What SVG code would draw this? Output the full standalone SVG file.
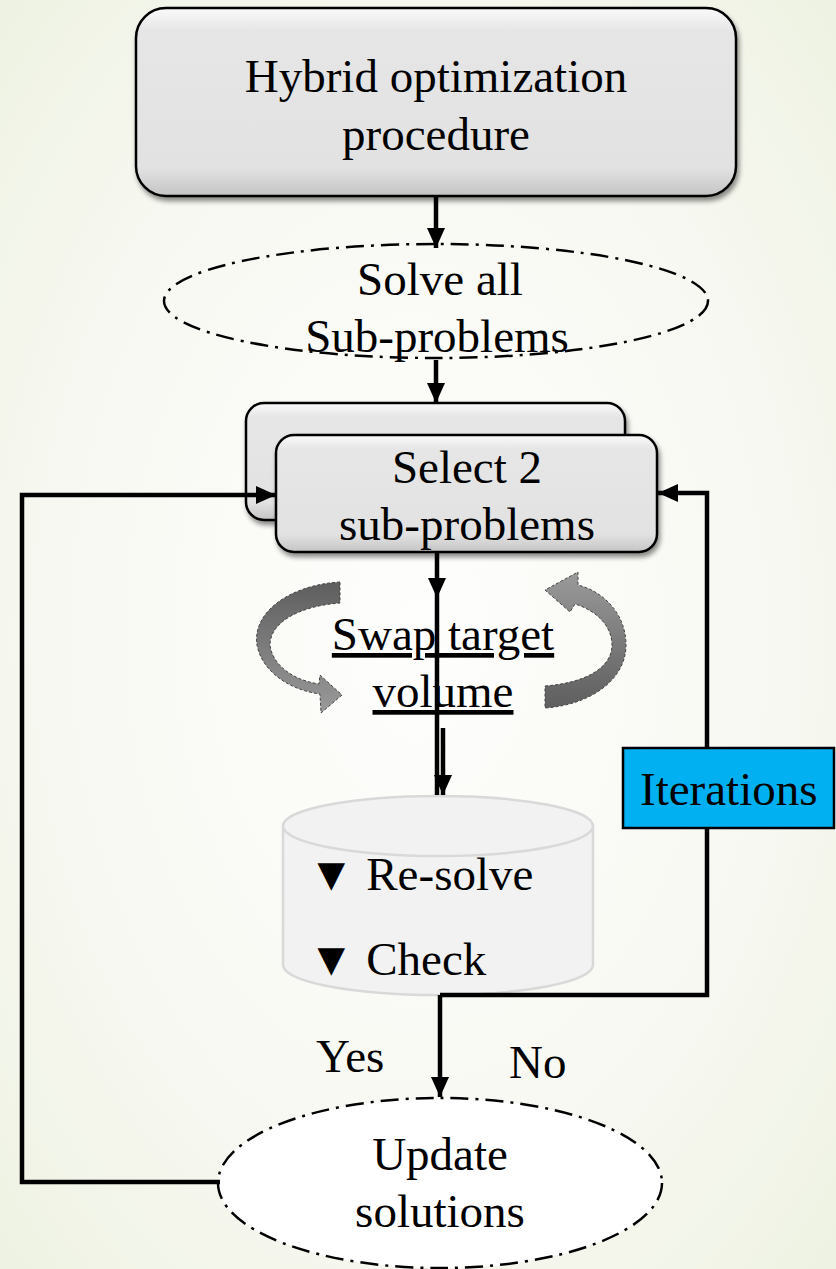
<svg xmlns="http://www.w3.org/2000/svg" width="836" height="1269" viewBox="0 0 836 1269">
<defs>
<radialGradient id="bg" cx="0.5" cy="0.5" r="0.75">
<stop offset="0" stop-color="#fefefd"/>
<stop offset="0.6" stop-color="#f7f8f1"/>
<stop offset="1" stop-color="#ecf1df"/>
</radialGradient>
<linearGradient id="boxg" x1="0" y1="0" x2="0" y2="1">
<stop offset="0" stop-color="#fafafa"/>
<stop offset="0.12" stop-color="#e6e6e6"/>
<stop offset="0.85" stop-color="#e2e2e2"/>
<stop offset="1" stop-color="#c4c4c4"/>
</linearGradient>
<linearGradient id="swapL" x1="0" y1="0" x2="0" y2="1">
<stop offset="0" stop-color="#5e5e5e"/>
<stop offset="1" stop-color="#9a9a9a"/>
</linearGradient>
<linearGradient id="swapR" x1="0" y1="1" x2="0" y2="0">
<stop offset="0" stop-color="#5e5e5e"/>
<stop offset="1" stop-color="#9a9a9a"/>
</linearGradient>
<filter id="sh" x="-10%" y="-10%" width="125%" height="130%">
<feDropShadow dx="2" dy="4" stdDeviation="2.5" flood-color="#000" flood-opacity="0.45"/>
</filter>
<marker id="ah" markerUnits="userSpaceOnUse" markerWidth="20" markerHeight="18" refX="20" refY="9" orient="auto">
<path d="M0,0 L20,9 L0,18 Z" fill="#000"/>
</marker>
<style>
text{font-family:"Liberation Serif","Times New Roman",serif;font-size:47px;fill:#000}
.c{text-anchor:middle}
.box{fill:url(#boxg);stroke:#000;stroke-width:2.5;filter:url(#sh)}
.dd{stroke:#000;stroke-width:2.5;stroke-dasharray:18 7 3 7}
.ln{fill:none;stroke:#000;stroke-width:4.5}
.swap{stroke:#444;stroke-width:1;stroke-dasharray:3 2}
</style>
</defs>
<rect width="836" height="1269" fill="url(#bg)"/>

<g id="node-hybrid">
<rect class="box" x="136" y="8" width="600" height="188" rx="30"/>
<text class="c" x="436" y="92">Hybrid optimization</text>
<text class="c" x="436" y="150">procedure</text>
</g>

<g id="node-solve">
<ellipse class="dd" cx="436" cy="301" rx="272" ry="57" fill="none"/>
<text class="c" x="440" y="295">Solve all</text>
<text class="c" x="437" y="352">Sub-problems</text>
</g>

<g id="node-select">
<rect class="box" x="246" y="403" width="379" height="117" rx="18"/>
<rect class="box" x="276" y="435" width="381" height="117" rx="18"/>
<text class="c" x="467" y="483">Select 2</text>
<text class="c" x="467" y="540">sub-problems</text>
</g>

<g id="node-swap">
<path class="swap" fill="url(#swapL)" d="M340,582 C290,585 252,612 257,645 C262,672 290,690 320,694 L321,713 L342,695 L320,675 L319,684 C292,680 272,664 270,645 C270,622 300,606 340,603 Z"/>
<path class="swap" fill="url(#swapR)" d="M545,686 C585,683 612,668 612,645 C612,625 595,610 575,604 L570,612 L545,590 L578,572 L578,585 C605,592 626,615 626,645 C626,680 590,705 545,708 Z"/>
<text class="c" x="443" y="650" text-decoration="underline">Swap target</text>
<text class="c" x="443" y="707" text-decoration="underline">volume</text>
</g>

<g id="node-check">
<path d="M283,826 V965 A155,30 0 0 0 593,965 V826" fill="#f2f2f2" stroke="#d9d9d9" stroke-width="2.5"/>
<ellipse cx="438" cy="826" rx="155" ry="30" fill="#f2f2f2" stroke="#d9d9d9" stroke-width="2.5"/>
<text x="308" y="890">▼ Re-solve</text>
<text x="308" y="975">▼ Check</text>
</g>

<g id="node-update">
<ellipse class="dd" cx="440" cy="1183" rx="222" ry="85" fill="#fff"/>
<text class="c" x="440" y="1170">Update</text>
<text class="c" x="440" y="1227">solutions</text>
</g>

<g id="connectors">
<path class="ln" d="M436,196 V248" marker-end="url(#ah)"/>
<path class="ln" d="M436,360 V403" marker-end="url(#ah)"/>
<path class="ln" d="M437,553 V598" marker-end="url(#ah)"/>
<path class="ln" d="M437,598 V795" stroke-width="3.5"/>
<path class="ln" d="M443,728 V795" marker-end="url(#ah)"/>
<path class="ln" d="M440,995 V1097" marker-end="url(#ah)"/>
<path class="ln" d="M220,1182 H22 V495 H276" marker-end="url(#ah)"/>
<path class="ln" d="M440,995 H707 V493 H658" marker-end="url(#ah)"/>
</g>

<g id="node-iterations">
<rect x="623" y="748" width="211" height="80" fill="#00b0f0" stroke="#000" stroke-width="2.5"/>
<text x="640" y="805">Iterations</text>
</g>

<g id="labels">
<text x="316" y="1072">Yes</text>
<text x="509" y="1078">No</text>
</g>
</svg>
